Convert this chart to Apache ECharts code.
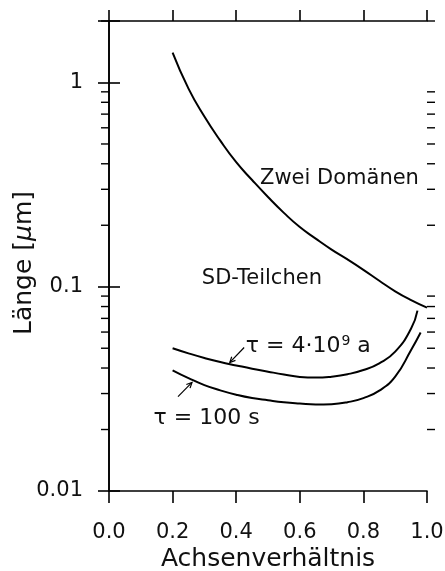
<!DOCTYPE html>
<html>
<head>
<meta charset="utf-8">
<script src="https://cdn.jsdelivr.net/npm/echarts@6/dist/echarts.min.js"></script>
<style>
  html, body { margin: 0; padding: 0; background: #fff; }
  #chart { width: 445px; height: 571px; }
</style>
</head>
<body>
<div id="chart"></div>
<script>
// Achsenverhältnis (x) and Länge in µm (y) for each curve
const xZweiDomaenen = [0.2, 0.25, 0.3, 0.35, 0.4, 0.45, 0.5, 0.55, 0.6, 0.65, 0.7, 0.75, 0.8, 0.85, 0.9, 0.95, 1.0];
const zweiDomaenen  = [1.4, 0.933, 0.681, 0.519, 0.407, 0.333, 0.275, 0.230, 0.196, 0.172, 0.152, 0.136, 0.121, 0.107, 0.095, 0.086, 0.079];

const xTauLang = [0.2, 0.25, 0.3, 0.35, 0.4, 0.45, 0.5, 0.55, 0.6, 0.65, 0.7, 0.75, 0.8, 0.85, 0.9, 0.95, 0.97];
const tauLang  = [0.05, 0.0472, 0.0448, 0.0428, 0.0412, 0.0397, 0.0384, 0.0372, 0.0362, 0.0359, 0.0363, 0.0373, 0.0391, 0.0422, 0.0481, 0.0624, 0.0764];

const xTauKurz = [0.2, 0.25, 0.3, 0.35, 0.4, 0.45, 0.5, 0.55, 0.6, 0.65, 0.7, 0.75, 0.8, 0.85, 0.9, 0.95, 0.98];
const tauKurz  = [0.039, 0.0357, 0.033, 0.0311, 0.0296, 0.0285, 0.0278, 0.0272, 0.0268, 0.0265, 0.0266, 0.0272, 0.0285, 0.031, 0.0363, 0.049, 0.0597];

// axis ranges and ticks
const yMin = 0.01, yMax = 2;
const yMinorTicks = [0.02, 0.03, 0.04, 0.05, 0.06, 0.07, 0.08, 0.09,
                     0.2, 0.3, 0.4, 0.5, 0.6, 0.7, 0.8, 0.9, 2];

const FONT = 'DejaVu Sans';
const pairs = (xs, ys) => xs.map((x, i) => [x, ys[i]]);

const chart = echarts.init(document.getElementById('chart'), null, { renderer: 'canvas' });

const axisLine = { show: true, lineStyle: { color: '#000', width: 1.6 } };
const tickStyle = { color: '#000', width: 1.6 };

function logLabel(v) {
  const e = Math.round(Math.log10(v));
  if (Math.abs(Math.log10(v) - e) > 1e-6) return '';
  return e >= 0 ? String(Math.pow(10, e)) : Math.pow(10, e).toFixed(-e);
}

const curveStyle = { color: '#000', width: 2 };

chart.setOption({
  animation: false,
  backgroundColor: '#fff',
  grid: { left: 109, right: 18, top: 21, bottom: 80, containLabel: false, outerBoundsMode: 'none' },
  xAxis: [
    {
      type: 'value', min: 0, max: 1, interval: 0.2, position: 'bottom',
      axisLine,
      axisTick: { show: true, inside: false, length: 12, lineStyle: tickStyle },
      axisLabel: { margin: 31, fontFamily: FONT, fontSize: 21, color: '#111',
                   formatter: v => v.toFixed(1) },
      splitLine: { show: false },
      name: 'Achsenverhältnis', nameLocation: 'middle', nameGap: 56, nameMoveOverlap: false,
      nameTextStyle: { fontFamily: FONT, fontSize: 25, color: '#111' }
    },
    {
      type: 'value', min: 0, max: 1, interval: 0.2, position: 'top',
      axisLine,
      axisTick: { show: true, inside: false, length: 11, lineStyle: tickStyle },
      axisLabel: { show: false },
      splitLine: { show: false }
    }
  ],
  yAxis: [
    {
      type: 'log', logBase: 10, min: yMin, max: yMax, position: 'left',
      axisLine,
      axisTick: { show: true, inside: false, length: 11, lineStyle: tickStyle },
      axisLabel: { margin: 26, fontFamily: FONT, fontSize: 21, color: '#111', formatter: logLabel },
      splitLine: { show: false },
      name: '{a|Länge [}{b|μ}{a|m]}', nameLocation: 'middle', nameGap: 72, nameMoveOverlap: false,
      nameTextStyle: {
        padding: [0, 14, 0, 0],
        rich: {
          a: { fontFamily: FONT, fontSize: 25, color: '#111' },
          b: { fontFamily: FONT, fontSize: 25, color: '#111', fontStyle: 'italic' }
        }
      }
    },
    {
      type: 'log', logBase: 10, min: yMin, max: yMax, position: 'right',
      axisLine,
      axisTick: { show: true, inside: false, length: 11, lineStyle: tickStyle },
      axisLabel: { show: false },
      splitLine: { show: false }
    }
  ],
  series: [
    {
      name: 'Zwei Domänen', type: 'line', data: pairs(xZweiDomaenen, zweiDomaenen),
      smooth: 0.5, showSymbol: false, lineStyle: curveStyle, silent: true
    },
    {
      name: 'τ = 4·10^9 a', type: 'line', data: pairs(xTauLang, tauLang),
      smooth: 0.5, showSymbol: false, lineStyle: curveStyle, silent: true
    },
    {
      name: 'τ = 100 s', type: 'line', data: pairs(xTauKurz, tauKurz),
      smooth: 0.5, showSymbol: false, lineStyle: curveStyle, silent: true
    },
    {
      // minor ticks of the logarithmic axis on both frame sides
      type: 'custom', clip: false, silent: true,
      data: yMinorTicks.map(v => [0, v]),
      renderItem(params, api) {
        const left = api.coord([0, api.value(1)]);
        const right = api.coord([1, api.value(1)]);
        const len = 8;
        const style = { stroke: '#000', lineWidth: 1.4 };
        return {
          type: 'group',
          children: [
            { type: 'line', shape: { x1: left[0] - len, y1: left[1], x2: left[0], y2: left[1] }, style },
            { type: 'line', shape: { x1: right[0], y1: right[1], x2: right[0] + len, y2: right[1] }, style }
          ]
        };
      }
    }
  ]
});

// text labels and arrows, placed in data coordinates
const toPx = p => chart.convertToPixel({ xAxisIndex: 0, yAxisIndex: 0 }, p);

const labels = [
  { at: [0.475, 0.34],   text: '{n|Zwei Domänen}', size: 21 },
  { at: [0.292, 0.110],  text: '{n|SD-Teilchen}',  size: 21 },
  { at: [0.43, 0.051],   text: '{n|τ = 4·10}{s|9}{n| a}', size: 22 },
  { at: [0.14, 0.0228],  text: '{n|τ = 100 s}', size: 22 }
];

const arrows = [
  { from: [0.425, 0.0504], to: [0.38, 0.0426] },
  { from: [0.217, 0.029],  to: [0.261, 0.034] }
];

const elements = [];
labels.forEach(l => {
  const p = toPx(l.at);
  elements.push({
    type: 'text', x: p[0], y: p[1], silent: true,
    style: {
      text: l.text, fill: '#111', font: l.size + 'px ' + FONT,
      verticalAlign: 'middle', align: 'left',
      rich: {
        n: { fontFamily: FONT, fontSize: l.size, lineHeight: 24, fill: '#111' },
        s: { fontFamily: FONT, fontSize: 14, lineHeight: 24, fill: '#111', verticalAlign: 'top', padding: [0, 0, 10, 1] }
      }
    }
  });
});

arrows.forEach(a => {
  const p0 = toPx(a.from), p1 = toPx(a.to);
  const ang = Math.atan2(p1[1] - p0[1], p1[0] - p0[0]);
  const h = 6, spread = 0.45;
  const w1 = [p1[0] - h * Math.cos(ang - spread), p1[1] - h * Math.sin(ang - spread)];
  const w2 = [p1[0] - h * Math.cos(ang + spread), p1[1] - h * Math.sin(ang + spread)];
  elements.push({
    type: 'line', silent: true,
    shape: { x1: p0[0], y1: p0[1], x2: p1[0], y2: p1[1] },
    style: { stroke: '#000', lineWidth: 1.2 }
  });
  elements.push({
    type: 'polyline', silent: true,
    shape: { points: [w1, p1, w2] },
    style: { stroke: '#000', lineWidth: 1.2, fill: null }
  });
});

chart.setOption({ graphic: { elements } });
</script>
</body>
</html>
